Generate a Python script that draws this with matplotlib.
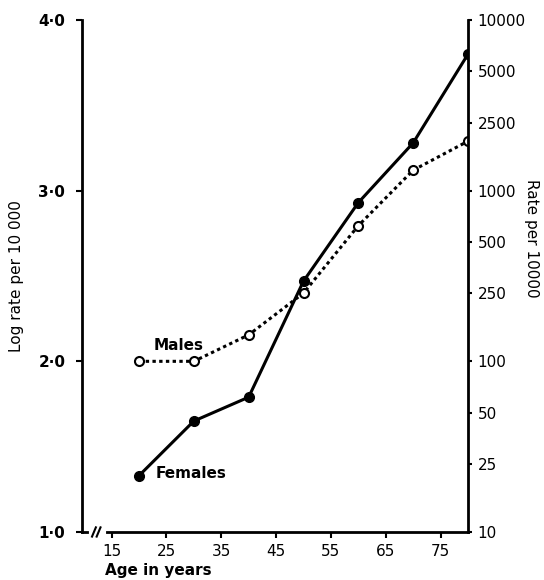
import matplotlib
matplotlib.use("Agg")
import matplotlib.pyplot as plt
import numpy as np

plt.rcParams["font.family"] = ["DejaVu Sans"]

# data
ages = [20, 30, 40, 50, 60, 70, 80]
females_log = [1.33, 1.65, 1.79, 2.47, 2.93, 3.28, 3.80]
males_log = [2.00, 2.00, 2.155, 2.40, 2.795, 3.12, 3.29]

x_ticks = [15, 25, 35, 45, 55, 65, 75]
left_ticks = [1.0, 2.0, 3.0, 4.0]
left_labels = ["1·0", "2·0", "3·0", "4·0"]
right_values = [10, 25, 50, 100, 250, 500, 1000, 2500, 5000, 10000]

fig = plt.figure(figsize=(5.44, 5.8), dpi=100)
ax = fig.add_axes([0.1507, 0.0828, 0.7096, 0.8827])

ax.plot(ages, females_log, color="black", lw=2.2, ls="-",
        marker="o", ms=7, mfc="black", mec="black", zorder=3)
ax.plot(ages, males_log, color="black", lw=2.2, ls=(0, (1.1, 1.1)),
        marker="o", ms=6.5, mfc="white", mec="black", mew=1.5, zorder=4)

ax.text(22.6, 2.09, "Males", fontsize=11, fontweight="bold", va="center", ha="left")
ax.text(23.1, 1.345, "Females", fontsize=11, fontweight="bold", va="center", ha="left")

ax.set_xlim(9.6, 80)
ax.set_ylim(1.0, 4.0)
ax.set_xticks(x_ticks)
ax.set_xticklabels([str(t) for t in x_ticks], fontsize=11)
ax.set_yticks(left_ticks)
ax.set_yticklabels(left_labels, fontsize=11, fontweight="bold")
ax.tick_params(axis="both", direction="out", length=4, width=1.5, pad=8)
ax.tick_params(axis="x", pad=5)
for s in ["left", "bottom"]:
    ax.spines[s].set_linewidth(2.0)
ax.spines["top"].set_visible(False)
ax.spines["right"].set_visible(False)

ax.set_ylabel("Log rate per 10 000", fontsize=11, labelpad=10)
ax.text(0.06, -0.076, "Age in years", transform=ax.transAxes,
        fontsize=11, fontweight="bold", ha="left", va="center")

# axis break on the x axis
ax.plot([0.024, 0.056], [0, 0], transform=ax.transAxes, color="white",
        lw=3, clip_on=False, zorder=5)
for x0 in [0.026, 0.038]:
    ax.plot([x0, x0 + 0.01], [-0.009, 0.009], transform=ax.transAxes,
            color="black", lw=1.5, clip_on=False, zorder=6)

# right axis: rate per 10000 at log positions
ax2 = ax.twinx()
ax2.set_ylim(1.0, 4.0)
ax2.set_yticks(np.log10(right_values))
ax2.set_yticklabels([str(v) for v in right_values], fontsize=11)
ax2.tick_params(axis="y", direction="out", length=3, width=1.5, pad=4)
ax2.spines["right"].set_linewidth(2.0)
for s in ["left", "top", "bottom"]:
    ax2.spines[s].set_visible(False)
fig.text(532 / 544, 1 - 238 / 580, "Rate per 10000", fontsize=11,
         rotation=-90, ha="center", va="center")

fig.savefig("out.png", dpi=100)
